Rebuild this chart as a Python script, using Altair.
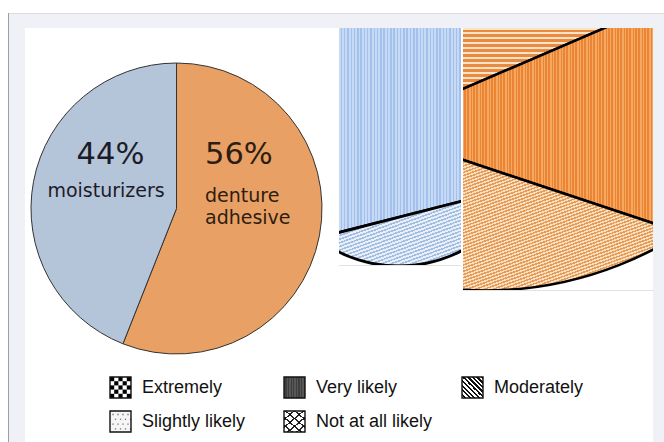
import math
import altair as alt
import pandas as pd

# ---------------------------------------------------------------- data
segments = ["denture adhesive", "moisturizers"]
shares = [56, 44]
segment_colors = ["#e9a064", "#b4c4d9"]

# magnified wedges: response level and the arc (degrees) that is visible
blue_levels = ["Very likely", "Moderately"]
blue_arc_deg = [75.7, 34.3]
orange_levels = ["Extremely", "Very likely", "Moderately"]
orange_arc_deg = [46.7, 41.7, 51.6]

legend_labels = ["Extremely", "Very likely", "Moderately",
                 "Slightly likely", "Not at all likely"]

# ---------------------------------------------------------------- style
FRAME_BG = "#eff1f6"
FRAME_LINE = "#dcdde2"
FRAME_EDGE = "#9c9da2"
PANEL_EDGE = "#e2e2e2"
TWO_PI = 2 * math.pi


def one_row():
    return pd.DataFrame({"k": [0]})


def box(x0, x1, y0, y1, color):
    return alt.Chart(one_row()).mark_rect(fill=color).encode(
        x=alt.value(x0), x2=alt.value(x1), y=alt.value(y0), y2=alt.value(y1))


def label(text, x, y, size, color, align="left", font="DejaVu Sans"):
    return alt.Chart(one_row()).mark_text(
        fontSize=size, color=color, align=align, baseline="alphabetic", font=font
    ).encode(x=alt.value(x), y=alt.value(y), text=alt.value(text))


def stripes(w, h, phi, period, c1, c2, duty=0.5):
    """Linear gradient (bounding-box units) that draws stripes running at
    angle phi (degrees, screen space) with the given pixel period."""
    ph = math.radians(phi)
    nx, ny = -math.sin(ph), math.cos(ph)
    corners = [(0.0, 0.0), (w, 0.0), (0.0, h), (w, h)]
    proj = [cx * nx + cy * ny for cx, cy in corners]
    lo = min(range(4), key=lambda i: proj[i])
    span = max(proj) - proj[lo]
    s = nx * nx * w * w + ny * ny * h * h
    a = span / s
    x1, y1 = corners[lo][0] / w, corners[lo][1] / h
    x2, y2 = x1 + a * nx * w, y1 + a * ny * h
    n = max(1, int(round(span / period)))
    stops = []
    for i in range(n):
        o0, om, o1 = i / n, (i + duty) / n, (i + 1) / n
        stops += [{"offset": round(o0, 6), "color": c1},
                  {"offset": round(om, 6), "color": c1},
                  {"offset": round(om, 6), "color": c2},
                  {"offset": round(o1, 6), "color": c2}]
    return {"gradient": "linear", "x1": x1, "y1": y1, "x2": x2, "y2": y2,
            "stops": stops}


def wedge_size(a0, a1, r):
    xs, ys = [0.0], [0.0]
    for k in range(721):
        a = math.radians(a0 + (a1 - a0) * k / 720)
        xs.append(r * math.sin(a))
        ys.append(-r * math.cos(a))
    return max(xs) - min(xs), max(ys) - min(ys)


# ---------------------------------------------------------------- main view
VIEW1_W, VIEW_H = 337, 442
frame = [
    box(8, 664, 13, 442, FRAME_BG),
    box(8, 664, 13, 14, FRAME_LINE),
    box(8, 9, 13, 442, FRAME_EDGE),
    box(25, 653, 28, 442, "white"),
]

pie_df = pd.DataFrame({"segment": segments, "share": shares,
                       "rank": list(range(len(segments)))})
pie = alt.Chart(pie_df).mark_arc(
    outerRadius=145.5, stroke="#333333", strokeWidth=1
).encode(
    theta=alt.Theta("share:Q", stack=True),
    order=alt.Order("rank:Q"),
    color=alt.Color("segment:N", legend=None,
                    scale=alt.Scale(domain=segments, range=segment_colors)),
    x=alt.value(176.5), y=alt.value(208.5),
)

left_words = segments[0].split()
pie_labels = [
    label(f"{shares[1]}%", 110.5, 164, 30.5, "#1c1c28", align="center"),
    label(segments[1], 106, 196.7, 19, "#1c1c28", align="center"),
    label(f"{shares[0]}%", 205, 164, 30.5, "#2d1d12"),
    label(left_words[0], 205, 201.8, 19, "#2d1d12"),
    label(left_words[1], 205, 224.2, 19, "#2d1d12"),
]

# legend: three columns, two rows
LEG_COLS = [110, 284, 462]
LEG_ROWS = [377, 411]
SW = 21
leg_df = pd.DataFrame({"label": legend_labels, "i": list(range(len(legend_labels)))})
leg = alt.Chart(leg_df).transform_calculate(
    sx=f"{LEG_COLS}[datum.i % 3]",
    sy=f"{LEG_ROWS}[floor(datum.i / 3)]",
).transform_calculate(
    sx2=f"datum.sx + {SW}", sy2=f"datum.sy + {SW}",
    tx="datum.sx + 32", ty=f"datum.sy + {SW / 2 + 0.5}",
)
px = dict(x=alt.X("sx:Q", scale=None), x2="sx2:Q",
          y=alt.Y("sy:Q", scale=None), y2="sy2:Q")


def swatch(name, **mark):
    return leg.transform_filter(alt.datum.label == name).mark_rect(**mark).encode(**px)


cell = SW / 5
checker = alt.Chart(alt.sequence(0, 25, as_="c")).transform_calculate(
    col="datum.c % 5", row="floor(datum.c / 5)"
).transform_filter("(datum.col + datum.row) % 2 == 0").transform_calculate(
    cx=f"{LEG_COLS[0]} + datum.col * {cell}",
    cy=f"{LEG_ROWS[0]} + datum.row * {cell}",
).transform_calculate(
    cx2=f"datum.cx + {cell}", cy2=f"datum.cy + {cell}"
).mark_rect(fill="black").encode(
    x=alt.X("cx:Q", scale=None), x2="cx2:Q",
    y=alt.Y("cy:Q", scale=None), y2="cy2:Q")

dots = alt.Chart(alt.sequence(0, 16, as_="c")).transform_calculate(
    col="datum.c % 4", row="floor(datum.c / 4)"
).transform_calculate(
    cx=f"{LEG_COLS[0]} + 3 + datum.col * 5 + (datum.row % 2) * 2.5",
    cy=f"{LEG_ROWS[1]} + 3.5 + datum.row * 4.8",
).mark_square(size=1.6, color="#707070", opacity=1).encode(
    x=alt.X("cx:Q", scale=None), y=alt.Y("cy:Q", scale=None))

legend_layers = [
    swatch(legend_labels[0], fill="white"),
    checker,
    swatch(legend_labels[1],
           fill=stripes(SW, SW, 90, 1.6, "#3e3e3e", "#575757")),
    swatch(legend_labels[2],
           fill=stripes(SW, SW, 45, 3.4, "#111111", "#ffffff", duty=0.5)),
    swatch(legend_labels[3], fill="#f6f6f6"),
    dots,
    swatch(legend_labels[4], fill="white"),
    swatch(legend_labels[4],
           fill=stripes(SW, SW, 40, 5.5, "rgba(0,0,0,0.85)", "rgba(0,0,0,0)", duty=0.22)),
    swatch(legend_labels[4],
           fill=stripes(SW, SW, -40, 5.5, "rgba(0,0,0,0.85)", "rgba(0,0,0,0)", duty=0.22)),
    leg.mark_rect(fill="white", fillOpacity=0, stroke="#111111", strokeWidth=1.4).encode(**px),
    leg.mark_text(align="left", baseline="middle", fontSize=18,
                  font="Liberation Sans", color="#111111").encode(
        x=alt.X("tx:Q", scale=None), y=alt.Y("ty:Q", scale=None), text="label:N"),
]

main_view = alt.layer(*frame, pie, *pie_labels, *legend_layers).properties(
    width=VIEW1_W, height=VIEW_H)


# ---------------------------------------------------------------- magnified panels
def panel(levels, arcs, start_deg, cx, cy, radius, textures, rim, line_w,
          width, height, panel_w):
    df = pd.DataFrame({"level": levels, "arc": arcs, "rank": list(range(len(levels)))})
    base = alt.Chart(df).transform_window(
        cum="sum(arc)", sort=[alt.SortField("rank")]
    ).transform_calculate(
        a0=f"{start_deg} + datum.cum - datum.arc", a1=f"{start_deg} + datum.cum")
    theta_scale = alt.Scale(domain=[0, 360], range=[0, TWO_PI])
    layers = []
    acc = start_deg
    for lvl, arc, tex in zip(levels, arcs, textures):
        w, h = wedge_size(acc, acc + arc, radius)
        acc += arc
        fill = stripes(w, h, *tex)
        layers.append(
            base.transform_filter(alt.datum.level == lvl).mark_arc(
                outerRadius=radius, fill=fill, stroke="black",
                strokeWidth=line_w, clip=True
            ).encode(
                theta=alt.Theta("a0:Q", scale=theta_scale, stack=None),
                theta2="a1:Q", x=alt.value(cx), y=alt.value(cy)))
    rx, ry, rr = rim
    layers.append(alt.Chart(one_row()).mark_arc(
        innerRadius=rr, outerRadius=rr + 700, theta=0, theta2=TWO_PI,
        fill="white", clip=True).encode(x=alt.value(rx), y=alt.value(ry)))
    layers.append(alt.Chart(one_row()).mark_arc(
        outerRadius=rr, theta=0, theta2=TWO_PI, fill="white", fillOpacity=0,
        stroke="black", strokeWidth=line_w, clip=True
    ).encode(x=alt.value(rx), y=alt.value(ry)))
    layers += [
        box(0, panel_w, height - 1, height, PANEL_EDGE),
        box(0, width, 0, 13, "white"),
        box(0, width, 13, 14, FRAME_LINE),
        box(0, width, 14, 28, FRAME_BG),
    ]
    if width > panel_w:
        layers.append(box(panel_w, width, 14, height, FRAME_BG))
    return alt.layer(*layers).properties(width=width, height=height)


blue_view = panel(
    blue_levels, blue_arc_deg, 0, -89, 255.2, 360,
    [(90, 3.3, "#a3c1ec", "#c6daf5", 0.45),
     (-20, 3.4, "#a3bee3", "#e8eff9", 0.45)],
    (60, 130, 136), 2.8, 122, 266, 122)

orange_view = panel(
    orange_levels, orange_arc_deg, 20, -93, 129, 360,
    [(0, 5.0, "#e98a3e", "#fbe3ca", 0.5),
     (90, 3.0, "#ec8533", "#f5a862", 0.5),
     (-20, 3.0, "#e49c58", "#fcdfbf", 0.5)],
    (22, -75, 365.5), 2.6, 201, 291, 190)

chart = alt.hconcat(main_view, blue_view, orange_view, spacing=2,
                    bounds="flush").properties(padding=0).configure_view(stroke=None)

chart.save("out.html", embed_options={"renderer": "svg", "actions": False})
